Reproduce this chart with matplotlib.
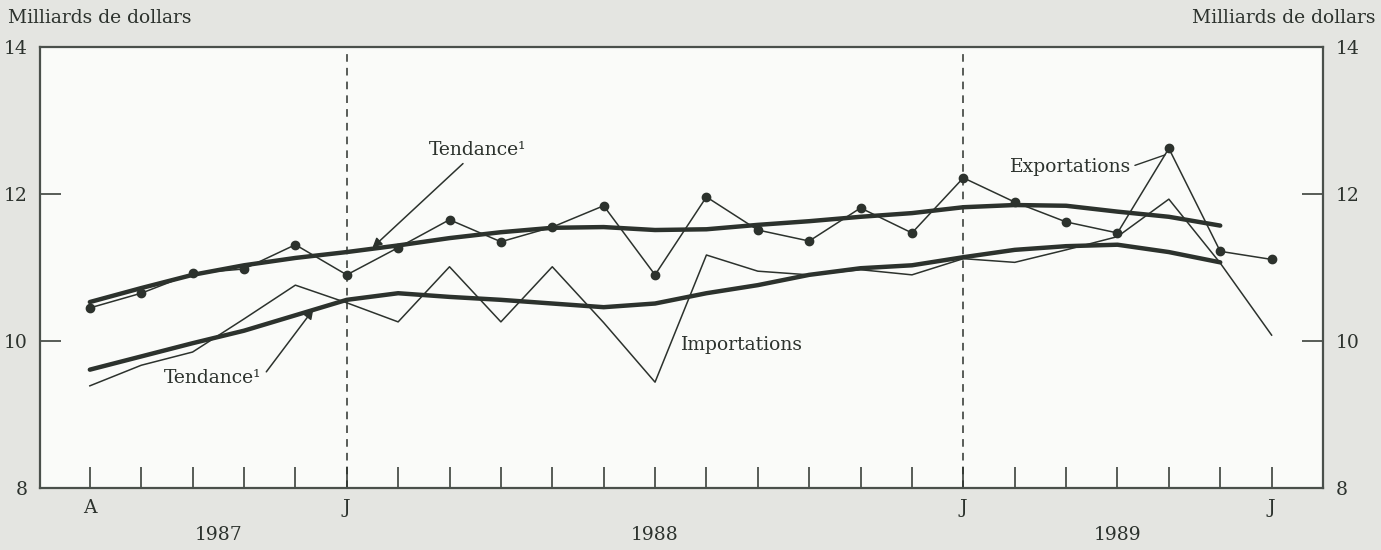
import matplotlib.pyplot as plt

# months Aug 1987 .. Jul 1989 (index 0..23)
months = list(range(24))
exports = [10.45, 10.65, 10.92, 10.98, 11.31, 10.90, 11.27, 11.65, 11.35, 11.55, 11.84, 10.90,
           11.96, 11.51, 11.36, 11.81, 11.47, 12.22, 11.89, 11.62, 11.47, 12.62, 11.22, 11.11]
imports = [9.39, 9.67, 9.85, 10.30, 10.76, 10.52, 10.26, 11.01, 10.26, 11.01, 10.25, 9.44,
           11.17, 10.95, 10.90, 10.97, 10.90, 11.12, 11.07, 11.24, 11.42, 11.93, 11.06, 10.08]
trend_months = list(range(23))
exports_trend = [10.53, 10.72, 10.90, 11.03, 11.13, 11.21, 11.30, 11.40, 11.48, 11.54, 11.55, 11.51,
                 11.52, 11.58, 11.63, 11.69, 11.74, 11.82, 11.85, 11.84, 11.76, 11.69, 11.57]
imports_trend = [9.61, 9.79, 9.97, 10.14, 10.35, 10.56, 10.65, 10.60, 10.56, 10.51, 10.46, 10.51,
                 10.65, 10.76, 10.90, 10.99, 11.03, 11.14, 11.24, 11.29, 11.31, 11.21, 11.07]
xlabels = {0: 'A', 5: 'J', 17: 'J', 23: 'J'}
years = [(2.5, '1987'), (11, '1988'), (20, '1989')]

ink = '#2c322d'
plt.rcParams['font.family'] = ['DejaVu Serif']
fs = 13.5

fig = plt.figure(figsize=(13.81, 5.5), dpi=100, facecolor='#e4e5e1')
ax = fig.add_axes([40 / 1381, 1 - 488 / 550, 1283 / 1381, 441 / 550])
ax.set_facecolor('#fafbf9')
ax.set_xlim(-0.97, 24.0)
ax.set_ylim(8, 14)

for s in ax.spines.values():
    s.set_color('#4a504b')
    s.set_linewidth(1.6)

ax.plot(months, imports, color=ink, lw=1.1)
ax.plot(months, exports, color=ink, lw=1.1, marker='o', ms=6)
ax.plot(trend_months, exports_trend, color=ink, lw=3.2, solid_capstyle='round', solid_joinstyle='round')
ax.plot(trend_months, imports_trend, color=ink, lw=3.2, solid_capstyle='round', solid_joinstyle='round')

for m in (5, 17):
    ax.axvline(m, color=ink, lw=1.1, ls=(0, (5, 4)))

# axis ticks
ax.set_xticks(months)
ax.set_xticklabels([xlabels.get(m, '') for m in months], fontsize=fs, color=ink)
ax.tick_params(axis='x', direction='in', length=15, width=1.3, color='#4a504b', pad=8)
ax.set_yticks([8, 10, 12, 14])
ax.tick_params(axis='y', direction='in', length=15, width=1.3, color='#4a504b',
               labelsize=fs, labelcolor=ink, left=True, right=True, labelright=True, pad=9)
for t in ax.yaxis.get_major_ticks():
    if t.get_loc() in (8, 14):
        t.tick1line.set_visible(False)
        t.tick2line.set_visible(False)

for x, yr in years:
    ax.text(x, -0.107, yr, transform=ax.get_xaxis_transform(), ha='center', va='center',
            fontsize=fs, color=ink)

fig.text(8 / 1381, 1 - 18 / 550, 'Milliards de dollars', ha='left', va='center', fontsize=fs, color=ink)
fig.text(1375 / 1381, 1 - 18 / 550, 'Milliards de dollars', ha='right', va='center', fontsize=fs, color=ink)

# annotations
ax.annotate('Tendance¹', xy=(5.5, 11.27), xytext=(6.6, 12.6), fontsize=fs, color=ink,
            ha='left', va='center',
            arrowprops=dict(arrowstyle='-|>', color=ink, lw=1.1, mutation_scale=14, shrinkA=2, shrinkB=0))
ax.annotate('Tendance¹', xy=(4.35, 10.43), xytext=(1.45, 9.5), fontsize=fs, color=ink,
            ha='left', va='center',
            arrowprops=dict(arrowstyle='-|>', color=ink, lw=1.1, mutation_scale=14, shrinkA=2, shrinkB=0,
                            relpos=(1.0, 0.5)))
ax.text(11.5, 9.95, 'Importations', fontsize=fs, color=ink, ha='left', va='center')
ax.annotate('Exportations', xy=(21.0, 12.55), xytext=(17.9, 12.37), fontsize=fs, color=ink,
            ha='left', va='center',
            arrowprops=dict(arrowstyle='-', color=ink, lw=1.0, shrinkA=1, shrinkB=3, relpos=(1.0, 0.5)))

fig.savefig('out.png', dpi=100, facecolor=fig.get_facecolor())
